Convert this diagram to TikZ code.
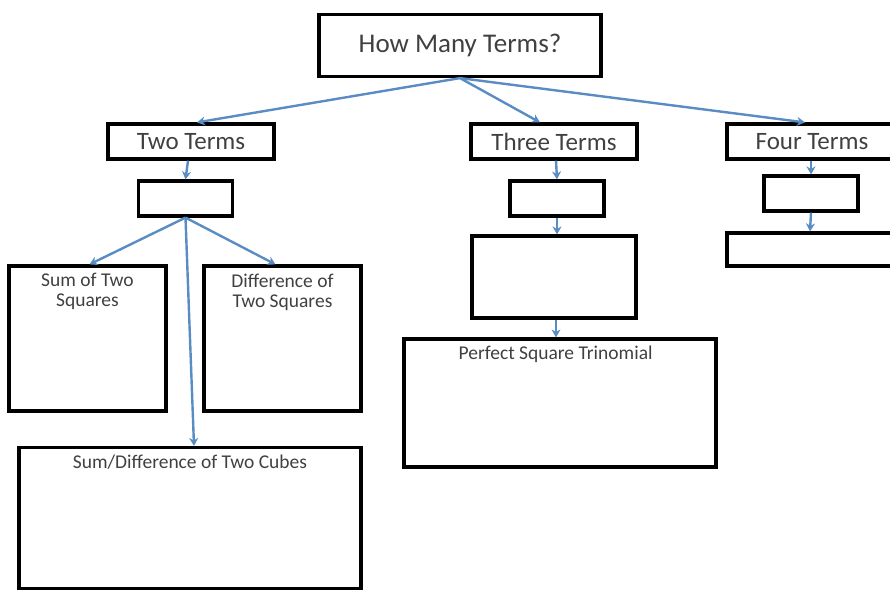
\documentclass[tikz,border=0pt]{standalone}
\usepackage{fontspec}
\setmainfont{Carlito}
\usetikzlibrary{positioning}
\usetikzlibrary{arrows.meta}
\definecolor{linkblue}{RGB}{90,140,196}
\definecolor{labelgray}{RGB}{64,64,64}

\begin{document}
\begin{tikzpicture}[x=1pt, y=-1pt,
  box/.style={draw, line width=3.2pt, inner sep=0pt, text=labelgray},
  link/.style={draw=linkblue, line width=2.4pt, -{Stealth[length=8pt, width=9pt]}},
  caption/.style={text=labelgray, inner sep=0pt, align=center, font=\fontsize{19.5}{20}\selectfont}]
% page
\useasboundingbox (0,0) rectangle (890,592);

% question and the three cases
\node[box, minimum width=282pt, minimum height=62pt, font=\fontsize{27}{30}\selectfont] (howmany) at (460,45.5) {How Many Terms?};
\begin{scope}[every node/.style={box, minimum height=35pt, font=\fontsize{25}{28}\selectfont}]
\node[minimum width=166pt] (two) at (191,141.5) {Two Terms};
\node[minimum width=166pt] (three) at (554,141.5) {Three Terms};
\node[minimum width=170pt] (four) at (812,141.5) {Four Terms};
\end{scope}

% small empty boxes
\begin{scope}[every node/.style={box, minimum width=94pt, minimum height=35pt}]
\node (twoblank) at (185.5,198.5) {};
\node (threeblank) at (557,198.5) {};
\node (fourblank) at (811,193.5) {};
\end{scope}

% bigger boxes
\node[box, minimum width=164pt, minimum height=82pt] (threemid) at (554,277) {};
\node[box, minimum width=170pt, minimum height=33pt] (fourmid) at (812,249.5) {};
\node[box, minimum width=157pt, minimum height=145pt] (sumsq) at (87.5,338.5) {};
\node[box, minimum width=157pt, minimum height=145pt] (diffsq) at (282.5,338.5) {};
\node[box, minimum width=342pt, minimum height=141pt] (cubes) at (190,518) {};
\node[box, minimum width=312pt, minimum height=128pt] (perfect) at (560,403) {};

% captions
\node[caption, below=9pt of sumsq.north] (sumsqtext) {Sum of Two\\Squares};
\node[caption, below=9pt of diffsq.north] (diffsqtext) {Difference of\\Two Squares};
\node[caption, below=9pt of cubes.north] (cubestext) {Sum/Difference of Two Cubes};
\node[caption, anchor=north west] (perfecttext) at ([xshift=56pt, yshift=-8pt]perfect.north west) {Perfect Square Trinomial};

% connectors
\draw[link] (howmany.south) -- ([xshift=6pt]two.north);
\draw[link] (howmany.south) -- ([xshift=-14pt]three.north);
\draw[link] (howmany.south) -- ([xshift=-7pt]four.north);
\draw[link] ([xshift=-3pt]two.south) -- ([xshift=0pt]twoblank.north);
\draw[link] (twoblank.south) -- ([xshift=2pt]sumsq.north);
\draw[link] (twoblank.south) -- ([xshift=-7pt]diffsq.north);
\draw[link] (twoblank.south) -- ([xshift=4pt]cubes.north);
\draw[link] ([xshift=2pt]three.south) -- (threeblank.north);
\draw[link] (threeblank.south) -- ([xshift=3pt]threemid.north);
\draw[link] ([xshift=2pt]threemid.south) -- ([xshift=-4pt]perfect.north);
\draw[link] ([xshift=-1pt]four.south) -- ([xshift=0pt]fourblank.north);
\draw[link] (fourblank.south) -- ([xshift=-2pt]fourmid.north);

\end{tikzpicture}
\end{document}
